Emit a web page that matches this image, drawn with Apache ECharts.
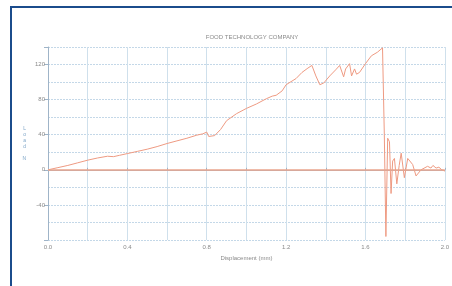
<!DOCTYPE html>
<html>
<head>
<meta charset="utf-8">
<script src="https://cdn.jsdelivr.net/npm/echarts@6/dist/echarts.min.js"></script>
<style>
  html, body { margin: 0; padding: 0; background: #ffffff; }
  #frame { position: absolute; left: 10px; top: 6px; width: 442px; height: 280px;
           border-left: 2px solid #1b4c8c; border-top: 2px solid #1b4c8c; }
  #chart { position: absolute; left: 0; top: 0; width: 452px; height: 286px; }
</style>
</head>
<body>
<div id="frame"></div>
<div id="chart"></div>
<script>
// displacement (mm) and load (N)
const displacement = [0, 0.05, 0.1, 0.15, 0.2, 0.25, 0.3, 0.33, 0.36, 0.4, 0.45, 0.5, 0.55, 0.6, 0.65, 0.7, 0.75, 0.78, 0.8, 0.81, 0.82, 0.84, 0.87, 0.9, 0.95, 1.0, 1.05, 1.1, 1.13, 1.15, 1.18, 1.2, 1.25, 1.28, 1.31, 1.33, 1.35, 1.37, 1.39, 1.42, 1.45, 1.47, 1.49, 1.5, 1.52, 1.53, 1.545, 1.555, 1.57, 1.6, 1.63, 1.66, 1.686, 1.695, 1.703, 1.712, 1.721, 1.729, 1.737, 1.746, 1.758, 1.77, 1.78, 1.796, 1.813, 1.838, 1.855, 1.88, 1.913, 1.93, 1.94, 1.956, 1.97, 1.985, 2.0];
const load = [0, 2.5, 5, 8, 11, 13.5, 15.5, 15, 16.5, 18.5, 21, 23.5, 26.5, 30, 33, 36, 39.5, 41, 43, 38, 36, 39, 46, 56, 64, 70, 75, 81, 84, 85, 90, 97, 104, 111, 116, 119, 107, 97, 99, 107, 114, 119, 106, 115, 121, 107, 115, 109, 111, 121, 130, 134, 139, 40, -76, 36, 32, -27, 10, 13, -16, 5, 19, -9, 13, 6, -7, 0, 4, 2, 5, 2, 3, 0, -1.5];
const yLabels = [120, 80, 40, 0, -40];
const xLabels = [0, 0.4, 0.8, 1.2, 1.6, 2.0];

const chart = echarts.init(document.getElementById('chart'));
chart.setOption({
  animation: false,
  title: {
    text: 'FOOD TECHNOLOGY COMPANY',
    left: 247, top: 29, textAlign: 'center',
    textStyle: { fontSize: 6, fontWeight: 'normal', color: '#8a8a8a', fontFamily: 'Liberation Sans' }
  },
  grid: { left: 48, right: 7, top: 47, bottom: 46 },
  xAxis: {
    type: 'value', min: 0, max: 2.0, interval: 0.2,
    name: 'Displacement (mm)', nameLocation: 'middle', nameGap: 13,
    nameTextStyle: { fontSize: 6, color: '#8a8a8a', fontFamily: 'Liberation Sans' },
    axisLine: { lineStyle: { color: '#9fb4c8', width: 1 } },
    axisTick: { length: 2, inside: true, lineStyle: { color: '#9fb4c8' } },
    axisLabel: {
      fontSize: 6, color: '#8a8a8a', margin: 4,
      formatter: v => xLabels.some(l => Math.abs(l - v) < 1e-6) ? v.toFixed(1) : ''
    },
    splitLine: { show: true, lineStyle: { color: '#cfe0ec', width: 1 } }
  },
  yAxis: {
    type: 'value', min: -80, max: 140, interval: 40,
    name: 'L\no\na\nd\n\nN', nameLocation: 'middle', nameGap: 22, nameRotate: 0,
    nameTextStyle: { fontSize: 5, lineHeight: 6, color: '#7fa6c8', fontFamily: 'Liberation Sans' },
    axisLine: { show: true, lineStyle: { color: '#9fb4c8', width: 1 } },
    axisTick: { show: true, length: 4, lineStyle: { color: '#9fb4c8' } },
    minorTick: { show: false, splitNumber: 2 },
    axisLabel: {
      fontSize: 6, color: '#8a8a8a', margin: 3,
      formatter: v => yLabels.indexOf(v) >= 0 ? String(v) : ''
    },
    splitLine: { show: true, lineStyle: { color: '#c4d8e8', width: 1, type: [2, 1] } },
    minorSplitLine: { show: true, lineStyle: { color: '#c4d8e8', width: 1, type: [2, 1] } }
  },
  series: [{
    type: 'line',
    data: displacement.map((x, i) => [x, load[i]]),
    showSymbol: false,
    lineStyle: { color: '#ee9a82', width: 1 },
    markLine: {
      silent: true, symbol: 'none', label: { show: false },
      lineStyle: { color: '#eaa48c', width: 1.5, type: 'solid' },
      data: [{ yAxis: 0 }]
    }
  }]
});
</script>
</body>
</html>
